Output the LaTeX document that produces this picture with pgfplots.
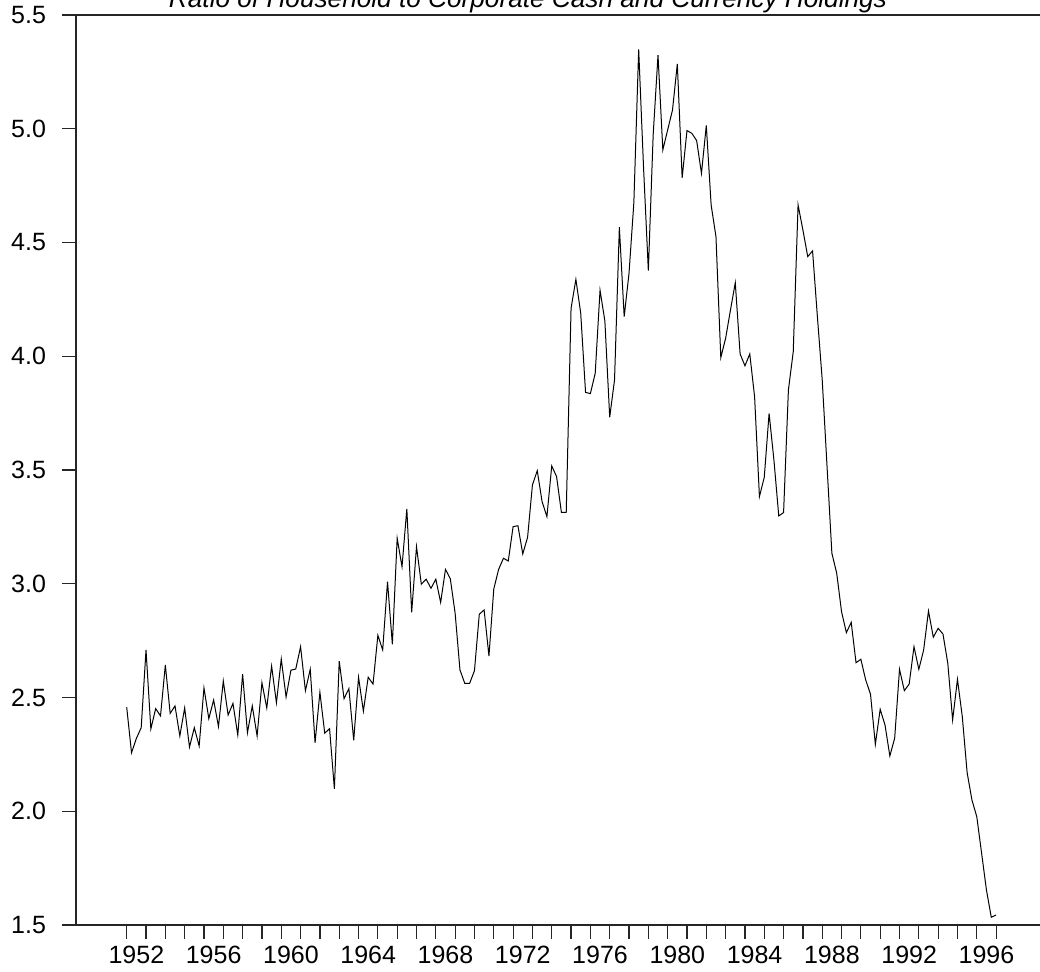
\documentclass[border=0pt]{standalone}
\usepackage{fontspec}
\setmainfont{Liberation Sans}
\usepackage{pgfplots}
\pgfplotsset{compat=1.18}
\usepackage{pgfplotstable}
\pgfplotstableread{
x y
1952.00 2.457
1952.25 2.257
1952.50 2.320
1952.75 2.367
1953.00 2.709
1953.25 2.362
1953.50 2.451
1953.75 2.419
1954.00 2.643
1954.25 2.430
1954.50 2.463
1954.75 2.331
1955.00 2.454
1955.25 2.282
1955.50 2.367
1955.75 2.287
1956.00 2.542
1956.25 2.407
1956.50 2.489
1956.75 2.372
1957.00 2.572
1957.25 2.423
1957.50 2.474
1957.75 2.335
1958.00 2.603
1958.25 2.345
1958.50 2.463
1958.75 2.331
1959.00 2.565
1959.25 2.454
1959.50 2.638
1959.75 2.477
1960.00 2.669
1960.25 2.502
1960.50 2.620
1960.75 2.625
1961.00 2.723
1961.25 2.530
1961.50 2.624
1961.75 2.301
1962.00 2.523
1962.25 2.343
1962.50 2.363
1962.75 2.098
1963.00 2.660
1963.25 2.495
1963.50 2.539
1963.75 2.312
1964.00 2.589
1964.25 2.440
1964.50 2.589
1964.75 2.559
1965.00 2.773
1965.25 2.709
1965.50 3.009
1965.75 2.734
1966.00 3.200
1966.25 3.075
1966.50 3.329
1966.75 2.874
1967.00 3.163
1967.25 2.998
1967.50 3.020
1967.75 2.980
1968.00 3.020
1968.25 2.918
1968.50 3.063
1968.75 3.022
1969.00 2.870
1969.25 2.621
1969.50 2.562
1969.75 2.562
1970.00 2.618
1970.25 2.866
1970.50 2.885
1970.75 2.682
1971.00 2.977
1971.25 3.063
1971.50 3.112
1971.75 3.100
1972.00 3.251
1972.25 3.255
1972.50 3.131
1972.75 3.204
1973.00 3.434
1973.25 3.497
1973.50 3.361
1973.75 3.295
1974.00 3.518
1974.25 3.471
1974.50 3.314
1974.75 3.314
1975.00 4.211
1975.25 4.338
1975.50 4.189
1975.75 3.841
1976.00 3.836
1976.25 3.925
1976.50 4.290
1976.75 4.155
1977.00 3.732
1977.25 3.896
1977.50 4.567
1977.75 4.174
1978.00 4.365
1978.25 4.675
1978.50 5.349
1978.75 4.833
1979.00 4.376
1979.25 4.973
1979.50 5.324
1979.75 4.907
1980.00 4.995
1980.25 5.082
1980.50 5.285
1980.75 4.784
1981.00 4.992
1981.25 4.980
1981.50 4.948
1981.75 4.804
1982.00 5.015
1982.25 4.665
1982.50 4.526
1982.75 3.994
1983.00 4.079
1983.25 4.203
1983.50 4.323
1983.75 4.010
1984.00 3.958
1984.25 4.010
1984.50 3.822
1984.75 3.383
1985.00 3.468
1985.25 3.749
1985.50 3.544
1985.75 3.298
1986.00 3.313
1986.25 3.852
1986.50 4.020
1986.75 4.665
1987.00 4.555
1987.25 4.438
1987.50 4.463
1987.75 4.174
1988.00 3.896
1988.25 3.515
1988.50 3.134
1988.75 3.046
1989.00 2.877
1989.25 2.785
1989.50 2.830
1989.75 2.653
1990.00 2.668
1990.25 2.577
1990.50 2.514
1990.75 2.294
1991.00 2.448
1991.25 2.379
1991.50 2.243
1991.75 2.321
1992.00 2.624
1992.25 2.530
1992.50 2.559
1992.75 2.723
1993.00 2.624
1993.25 2.709
1993.50 2.880
1993.75 2.765
1994.00 2.804
1994.25 2.779
1994.50 2.650
1994.75 2.401
1995.00 2.580
1995.25 2.416
1995.50 2.170
1995.75 2.049
1996.00 1.976
1996.25 1.815
1996.50 1.654
1996.75 1.534
1997.00 1.544
}\datatable

\begin{document}
\begin{tikzpicture}
\begin{axis}[
  scale only axis,
  width=492pt, height=455pt,
  xmin=1949.376, xmax=2000.307,
  ymin=1.5, ymax=5.5,
  axis line style={line width=0.6pt, black!85},
  xtick={1952,1953,...,1997},
  xticklabels={1952,,,,1956,,,,1960,,,,1964,,,,1968,,,,1972,,,,1976,,,,1980,,,,1984,,,,1988,,,,1992,,,,1996,},
  minor x tick num=1,
  xtick pos=bottom, ytick pos=left,
  tick align=outside,
  major tick length=7pt, minor tick length=4pt,
  every tick/.style={black!85, line width=0.6pt},
  ytick={1.5,2.0,2.5,3.0,3.5,4.0,4.5,5.0,5.5},
  yticklabels={1.5,2.0,2.5,3.0,3.5,4.0,4.5,5.0,5.5},
  tick label style={font=\fontsize{12.5}{14}\selectfont},
  xticklabel style={xshift=4.83pt},
  yticklabel style={xshift=-4.5pt},
  clip=false,
]
\addplot[black, line width=0.5pt, mark=none] table[x=x,y=y]{\datatable};
\node[anchor=base, font=\itshape\fontsize{13.1}{15}\selectfont] at (axis cs:1972.77,5.531) {Ratio of Household to Corporate Cash and Currency Holdings};
\coordinate (BL) at (axis cs:1945.442,1.2934);
\coordinate (TR) at (axis cs:1999.272,5.566);
\end{axis}
\pgfresetboundingbox
\useasboundingbox (BL) rectangle (TR);
\end{tikzpicture}
\end{document}
